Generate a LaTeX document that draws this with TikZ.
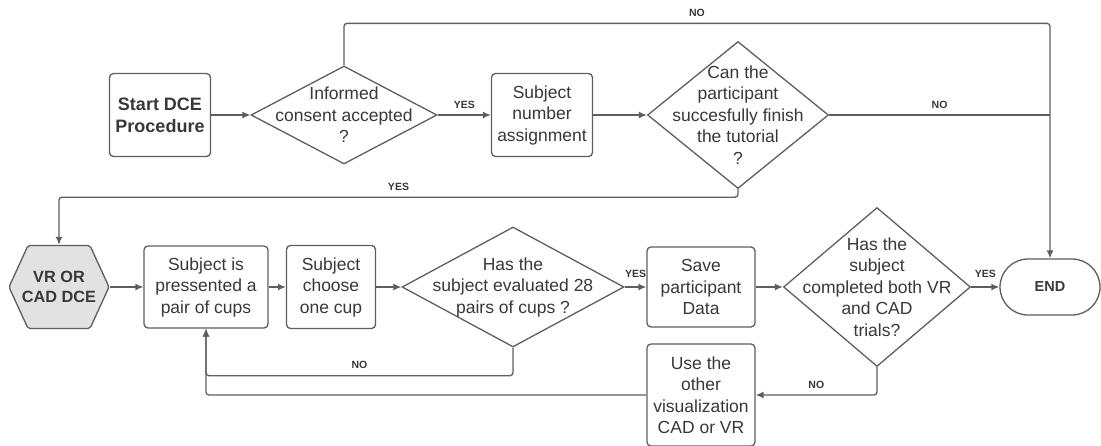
\documentclass[tikz,border=0pt]{standalone}
\usepackage{fontspec}
\setmainfont{Liberation Sans}
\usetikzlibrary{arrows.meta,positioning,shapes.geometric}
\definecolor{linegray}{HTML}{5E5E5E}
\definecolor{textgray}{HTML}{383838}
\definecolor{hexfill}{HTML}{E2E2E2}
\newcommand{\bodyfont}{\fontsize{17.5}{21.5}\selectfont}
\newcommand{\startfont}{\fontsize{18}{22}\selectfont\bfseries}
\newcommand{\hexfont}{\fontsize{16.3}{20.7}\selectfont\bfseries}
\newcommand{\stopfont}{\fontsize{14.5}{17}\selectfont\bfseries}
\newcommand{\tagfont}{\fontsize{10.5}{12}\selectfont\bfseries}

\begin{document}
\begin{tikzpicture}[->, >={Latex[length=8pt,width=7pt]}, x=1pt, y=-1pt, line width=1.3pt, draw=linegray, text=textgray]
\tikzstyle{process}=[draw, rectangle, rounded corners=4pt, align=center, inner sep=2pt, font=\bodyfont]
\tikzstyle{decision}=[draw, diamond, align=center, inner xsep=-90pt, inner ysep=-60pt, font=\bodyfont]
\tikzstyle{answer}=[font=\tagfont, inner sep=2pt, above=4pt]
\tikzstyle{link}=[rounded corners=3pt]
\useasboundingbox (0,0) rectangle (1101,445);

% first row
\node[process, font=\startfont, minimum width=101pt, minimum height=83pt] (start) at (160,115) {Start DCE\\Procedure};
\node[decision, minimum width=186pt, minimum height=98pt] (informed) [right of=start, node distance=184pt] {Informed\\consent accepted\\?};
\node[process, minimum width=101pt, minimum height=83pt] (number) [right of=informed, node distance=198pt] {Subject\\number\\assignment};
\node[decision, minimum width=181pt, minimum height=147pt] (canfinish) [right of=number, node distance=196pt] {Can the\\participant\\succesfully finish\\the tutorial\\?};

% second row
\draw[-, fill=hexfill, rounded corners=2pt] (9,287) -- (28,245.5) -- (90,245.5) -- (109,287) -- (90,328.5) -- (28,328.5) -- cycle;
\node[rectangle, minimum width=100pt, minimum height=83pt, inner sep=0pt, align=center, font=\hexfont] (vr) at (59,287) {VR OR\\CAD DCE};
\node[process, minimum width=124pt, minimum height=82pt] (pair) [right of=vr, node distance=147pt] {Subject is\\pressented a\\pair of cups};
\node[process, minimum width=89pt, minimum height=83pt] (choose) [right of=pair, node distance=125pt] {Subject\\choose\\one cup};
\node[decision, minimum width=222pt, minimum height=120pt] (eval) [right of=choose, node distance=182pt] {Has the\\subject evaluated 28\\pairs of cups ?};
\node[process, minimum width=108pt, minimum height=80pt] (save) [right of=eval, node distance=188pt] {Save\\participant\\Data};
\node[decision, minimum width=187pt, minimum height=159pt] (done) [right of=save, node distance=176pt] {Has the\\subject\\completed both VR\\and CAD\\trials?};
\node[draw, rectangle, rounded corners=28pt, minimum width=100pt, minimum height=56pt, font=\stopfont] (END) [right of=done, node distance=173pt] {END};
\node[process, minimum width=108pt, minimum height=102pt] (other) [below of=save, node distance=108pt] {Use the\\other\\visualization\\CAD or VR};

\path
(start) edge (informed)
(informed) edge node[answer]{YES} (number)
(number) edge (canfinish)
(vr) edge (pair)
(pair) edge (choose)
(choose) edge (eval)
(eval) edge node[answer, above=7pt]{YES} (save)
(save) edge (done)
(done) edge node[answer, above=7pt]{YES} (END);

\draw[link] (informed.north) -- ++(0,-42) -| node[answer, pos=0.25]{NO} (END.north);
\draw[link, -] (canfinish.east) -- node[answer]{NO} (canfinish.east -| END.north);
\draw[link] (canfinish.south) -- ++(0,8) -| node[answer, pos=0.25]{YES} (vr);
\draw[link] (eval.south) -- ++(0,28) -| node[answer, pos=0.25]{NO} (pair);
\draw[link] (done.south) |- node[answer, pos=0.75]{NO} (other.east);
\draw[link] (other.west) -| (pair);
\end{tikzpicture}
\end{document}
